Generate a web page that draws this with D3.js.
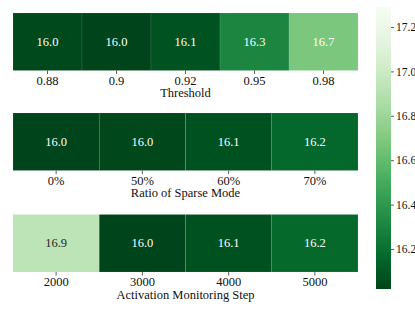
<!DOCTYPE html>
<html>
<head>
<meta charset="utf-8">
<script src="https://cdn.jsdelivr.net/npm/d3@7"></script>
<style>
  body { margin: 0; background: #fff; }
  svg text { font-family: "Liberation Serif", "Times New Roman", Times, serif !important; }
</style>
</head>
<body>
<svg id="chart" width="415" height="314"></svg>
<script>
// data
const thresholdCats = ['0.88', '0.9', '0.92', '0.95', '0.98'];
const thresholdVals = [16.04, 16.02, 16.08, 16.31, 16.68];
const sparseCats = ['0%', '50%', '60%', '70%'];
const sparseVals = [16.02, 16.03, 16.07, 16.16];
const stepCats = ['2000', '3000', '4000', '5000'];
const stepVals = [16.93, 16.02, 16.07, 16.17];
const rowLabels = ['Threshold', 'Ratio of Sparse Mode', 'Activation Monitoring Step'];
const cbTicks = [16.2, 16.4, 16.6, 16.8, 17.0, 17.2];

const vmin = 16.02, vmax = 17.29;
const serif = '"Liberation Serif", "Times New Roman", Times, serif';

const svg = d3.select('#chart');

// reversed Greens, like matplotlib's Greens_r
const color = d3.scaleSequential(t => d3.interpolateGreens(1 - t))
  .domain([vmin, vmax]);

const rows = [
  { cats: thresholdCats, vals: thresholdVals, label: rowLabels[0], top: 13 },
  { cats: sparseCats, vals: sparseVals, label: rowLabels[1], top: 113 },
  { cats: stepCats, vals: stepVals, label: rowLabels[2], top: 214.5 }
];
const rowH = 57.5;
const left = 13, right = 358;

rows.forEach(row => {
  const x = d3.scaleBand().domain(row.cats).range([left, right]);
  const g = svg.append('g').attr('transform', `translate(0,${row.top})`);

  g.selectAll('rect')
    .data(row.cats)
    .enter()
    .append('rect')
    .attr('x', d => x(d))
    .attr('y', 0)
    .attr('width', x.bandwidth())
    .attr('height', rowH)
    .attr('fill', (d, i) => color(row.vals[i]))
    .attr('stroke', 'rgba(255,255,255,0.15)')
    .attr('stroke-width', 0.6);

  g.selectAll('.anno')
    .data(row.cats)
    .enter()
    .append('text')
    .attr('class', 'anno')
    .attr('x', d => x(d) + x.bandwidth() / 2)
    .attr('y', rowH / 2 + 4)
    .attr('text-anchor', 'middle')
    .attr('font-family', serif)
    .attr('font-size', 12.5)
    .attr('fill', (d, i) => (row.vals[i] > 16.8 ? '#262626' : '#fff'))
    .text((d, i) => row.vals[i].toFixed(1));

  // bottom axis
  const axis = g.append('g')
    .attr('transform', `translate(0,${rowH})`)
    .call(d3.axisBottom(x).tickSize(3.5).tickPadding(2));
  axis.attr('font-family', serif);
  axis.select('.domain').remove();
  axis.selectAll('line').attr('stroke', '#333').attr('stroke-width', 0.8);
  axis.selectAll('text')
    .attr('font-size', 12.5)
    .attr('fill', '#111');

  g.append('text')
    .attr('x', (left + right) / 2)
    .attr('y', rowH + 26.5)
    .attr('text-anchor', 'middle')
    .attr('font-family', serif)
    .attr('font-size', 12.5)
    .attr('fill', '#111')
    .text(row.label);
});

// colorbar
const cbX = 376, cbW = 15, cbTop = 7, cbBottom = 289;
const cbY = d3.scaleLinear().domain([vmin, vmax]).range([cbBottom, cbTop]);

const defs = svg.append('defs');
const grad = defs.append('linearGradient')
  .attr('id', 'cbgrad')
  .attr('x1', 0).attr('y1', 1).attr('x2', 0).attr('y2', 0);
d3.range(0, 1.0001, 0.05).forEach(t => {
  grad.append('stop')
    .attr('offset', t)
    .attr('stop-color', color(vmin + t * (vmax - vmin)));
});

svg.append('rect')
  .attr('x', cbX)
  .attr('y', cbTop)
  .attr('width', cbW)
  .attr('height', cbBottom - cbTop)
  .attr('fill', 'url(#cbgrad)');

const cbAxis = svg.append('g')
  .attr('transform', `translate(${cbX + cbW},0)`)
  .call(d3.axisRight(cbY).tickValues(cbTicks).tickFormat(d3.format('.1f')).tickSize(3).tickPadding(2));
cbAxis.attr('font-family', serif);
cbAxis.select('.domain').remove();
cbAxis.selectAll('line').attr('stroke', '#333').attr('stroke-width', 0.8);
cbAxis.selectAll('text')
  .attr('font-size', 11.5)
  .attr('fill', '#111');
</script>
</body>
</html>
